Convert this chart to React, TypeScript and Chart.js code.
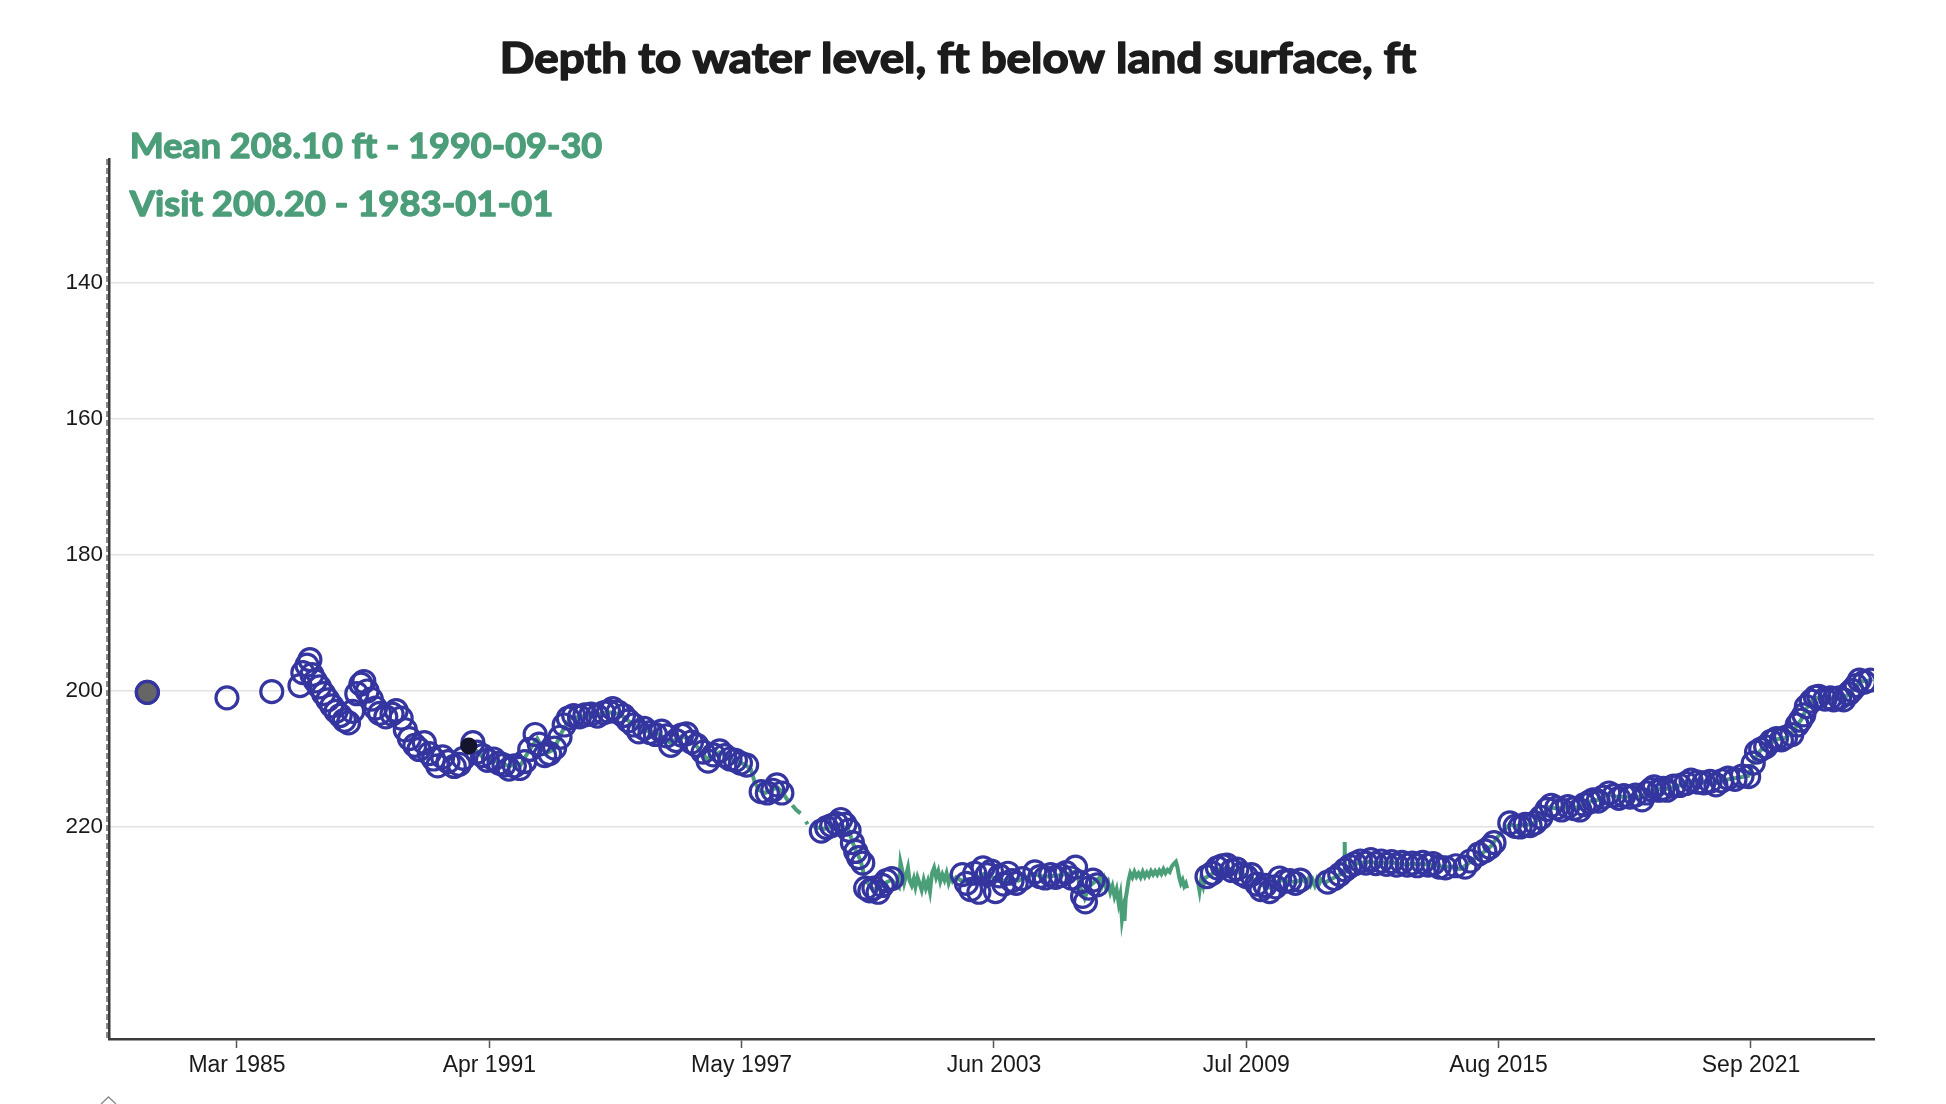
import React, { useEffect, useRef } from "react";
import { Chart, registerables } from "chart.js";

Chart.register(...registerables);

// ---------- DATA ----------
const TITLE = "Depth to water level, ft below land surface, ft";
const MEAN_LABEL = "Mean 208.10 ft - 1990-09-30";
const VISIT_LABEL = "Visit 200.20 - 1983-01-01";

const Y_TICKS = [140, 160, 180, 200, 220];
const X_TICK_VALUES = [1985.162, 1991.247, 1997.329, 2003.414, 2009.496, 2015.581, 2021.666];
const X_TICK_LABELS = ["Mar 1985", "Apr 1991", "May 1997", "Jun 2003", "Jul 2009", "Aug 2015", "Sep 2021"];

// highlighted points
const SELECTED_VISIT = { year: 1983.0, depth: 200.2 };
const MEAN_POINT = { year: 1990.75, depth: 208.1 };

// field visits (decimal year, depth ft)
const VISIT_YEARS = [
  1983.0, 1984.92, 1986.0, 1986.68, 1986.75, 1986.85, 1986.92, 1986.97, 1987.05, 1987.15,
  1987.25, 1987.35, 1987.45, 1987.55, 1987.65, 1987.75, 1987.85, 1987.95, 1988.05, 1988.15,
  1988.22, 1988.3, 1988.4, 1988.5, 1988.6, 1988.75, 1988.9, 1989.0, 1989.12, 1989.22,
  1989.32, 1989.45, 1989.55, 1989.68, 1989.8, 1989.9, 1990.0, 1990.12, 1990.25, 1990.4,
  1990.52, 1990.62, 1990.85, 1990.95, 1991.08, 1991.2, 1991.35, 1991.48, 1991.6, 1991.72,
  1991.85, 1991.98, 1992.1, 1992.22, 1992.35, 1992.45, 1992.58, 1992.7, 1992.82, 1992.95,
  1993.05, 1993.15, 1993.28, 1993.42, 1993.55, 1993.7, 1993.85, 1994.0, 1994.12, 1994.22,
  1994.35, 1994.48, 1994.6, 1994.72, 1994.85, 1994.98, 1995.12, 1995.25, 1995.4, 1995.52,
  1995.62, 1995.75, 1995.88, 1996.0, 1996.12, 1996.25, 1996.4, 1996.52, 1996.65, 1996.8,
  1996.92, 1997.05, 1997.18, 1997.3, 1997.45, 1997.8, 1997.95, 1998.08, 1998.18, 1998.3,
  1999.25, 1999.38, 1999.5, 1999.62, 1999.72, 1999.82, 1999.92, 2000.0, 2000.08, 2000.15,
  2000.25, 2000.32, 2000.42, 2000.52, 2000.62, 2000.72, 2000.82, 2000.95,
  2002.65, 2002.75, 2002.85, 2002.95, 2003.05, 2003.15, 2003.25, 2003.35, 2003.45, 2003.55,
  2003.65, 2003.75, 2003.85, 2003.95, 2004.1, 2004.4, 2004.52, 2004.65, 2004.78, 2004.9,
  2005.02, 2005.15, 2005.28, 2005.38, 2005.48, 2005.55, 2005.62, 2005.7, 2005.8, 2005.9,
  2008.55, 2008.68, 2008.8, 2008.92, 2009.03, 2009.15, 2009.27, 2009.38, 2009.5, 2009.62,
  2009.75, 2009.85, 2009.95, 2010.06, 2010.2, 2010.3, 2010.42, 2010.55, 2010.68, 2010.8,
  2011.46, 2011.62, 2011.75, 2011.88, 2011.99, 2012.12, 2012.25, 2012.38, 2012.5, 2012.62,
  2012.75, 2012.88, 2013.0, 2013.12, 2013.25, 2013.38, 2013.5, 2013.62, 2013.75, 2013.88,
  2014.0, 2014.15, 2014.3, 2014.55, 2014.77, 2014.9, 2015.1, 2015.25, 2015.37, 2015.47,
  2015.85, 2015.98, 2016.1, 2016.22, 2016.34, 2016.46, 2016.6, 2016.75, 2016.85, 2016.98,
  2017.1, 2017.25, 2017.4, 2017.54, 2017.65, 2017.78, 2017.86, 2017.98, 2018.1, 2018.24,
  2018.36, 2018.48, 2018.6, 2018.75, 2018.88, 2019.04, 2019.15, 2019.25, 2019.33, 2019.45,
  2019.55, 2019.64, 2019.8, 2019.95, 2020.1, 2020.22, 2020.38, 2020.53, 2020.68, 2020.82,
  2020.96, 2021.11, 2021.28, 2021.45, 2021.61, 2021.72, 2021.8, 2021.9, 2022.02, 2022.15,
  2022.28, 2022.4, 2022.5, 2022.65, 2022.78, 2022.86, 2022.94, 2023.0, 2023.12, 2023.22,
  2023.3, 2023.45, 2023.58, 2023.66, 2023.8, 2023.9, 2024.02, 2024.1, 2024.2, 2024.28,
  2024.4, 2024.55,
];
const VISIT_DEPTHS = [
  200.2, 201.0, 200.1, 199.2, 197.3, 196.2, 195.4, 197.6, 198.5, 199.4,
  200.4, 201.3, 202.2, 203.0, 203.6, 204.3, 204.7, 203.0, 200.4, 199.0,
  198.6, 200.0, 201.2, 202.5, 203.3, 203.8, 203.4, 202.9, 204.0, 205.7,
  207.0, 208.0, 208.6, 207.6, 209.2, 210.0, 211.0, 209.7, 210.4, 211.1,
  210.8, 209.9, 207.6, 209.0, 209.5, 210.2, 210.0, 210.6, 210.9, 211.5,
  211.0, 211.4, 210.4, 208.6, 206.4, 207.8, 209.5, 209.2, 208.4, 206.8,
  205.0, 204.0, 203.6, 203.8, 203.5, 203.4, 203.7, 203.2, 203.0, 202.6,
  203.1, 203.6, 204.4, 205.0, 206.0, 205.5, 206.1, 206.4, 205.9, 206.6,
  208.0, 207.3, 206.5, 206.3, 207.5, 208.0, 209.0, 210.3, 209.4, 208.8,
  209.5, 210.0, 210.2, 210.6, 210.9, 214.8, 215.0, 214.6, 213.8, 215.0,
  220.6, 220.1, 219.8, 219.5, 218.9, 219.6, 220.5, 222.3, 223.6, 224.5,
  225.3, 229.0, 229.4, 229.0, 229.6, 228.6, 227.9, 227.6,
  227.0, 228.3, 229.2, 226.8, 229.6, 226.0, 227.0, 226.5, 229.5, 227.2,
  228.4, 226.8, 227.9, 228.3, 227.6, 226.6, 227.3, 227.5, 227.0, 227.4,
  227.1, 226.7, 227.5, 225.9, 228.1, 230.2, 231.0, 229.0, 227.8, 228.5,
  227.3, 226.8, 226.0, 225.7, 225.6, 226.4, 226.2, 226.9, 227.3, 227.0,
  228.4, 229.2, 228.6, 229.5, 228.8, 227.5, 228.0, 227.9, 228.3, 227.8,
  228.1, 227.6, 227.0, 226.3, 225.8, 225.4, 225.0, 225.3, 224.8, 225.4,
  225.0, 225.5, 225.1, 225.6, 225.2, 225.6, 225.3, 225.7, 225.2, 225.6,
  225.4, 225.9, 226.0, 225.7, 225.9, 225.0, 224.0, 223.5, 223.0, 222.3,
  219.4, 219.9, 220.0, 219.6, 219.8, 219.4, 218.6, 217.4, 216.8, 217.2,
  217.5, 217.0, 217.3, 217.5, 216.7, 216.3, 216.0, 216.2, 215.6, 215.0,
  215.4, 215.8, 215.4, 215.6, 215.3, 216.0, 215.0, 214.5, 214.1, 214.6,
  214.3, 214.6, 214.0, 213.9, 213.6, 213.1, 213.4, 213.5, 213.3, 213.8,
  213.2, 212.8, 213.0, 212.5, 212.6, 210.6, 209.0, 208.6, 208.2, 207.4,
  207.0, 207.2, 206.8, 206.4, 205.0, 204.3, 203.5, 202.3, 201.5, 200.9,
  200.8, 201.2, 201.0, 201.3, 201.0, 201.3, 200.4, 199.9, 199.2, 198.4,
  198.7, 198.4,
];

// continuous (daily) record; null = gap
const CONT_YEARS = [
  1990.9, 1991.1, 1991.4, 1991.7, 1992.0, 1992.2, 1992.4, 1992.6, 1992.8, 1993.0,
  1993.2, 1993.5, 1993.8, 1994.1, 1994.4, 1994.7, 1995.0, 1995.3, 1995.6, 1995.9,
  1996.2, 1996.5, 1996.8, 1997.1, 1997.4, 1997.55, 1997.65, 1997.75, 1997.9, 1998.05,
  1998.2, 1998.35, 1998.45, 1998.5,
  1998.55, 1998.65, 1998.75, 1998.8,
  1998.88, 1998.92, 1998.96,
  1999.0, 1999.3, 1999.6, 1999.9, 2000.05, 2000.2, 2000.3, 2000.45, 2000.6, 2000.8,
  2000.95, 2001.05, 2001.12, 2001.16, 2001.2, 2001.25, 2001.3, 2001.34, 2001.38, 2001.43,
  2001.48, 2001.52, 2001.57, 2001.62, 2001.67, 2001.72, 2001.77, 2001.82, 2001.87, 2001.92,
  2001.97, 2002.02, 2002.07, 2002.12, 2002.17, 2002.22, 2002.27, 2002.32, 2002.37, 2002.42,
  2002.5, 2002.6, 2002.8, 2003.0, 2003.2, 2003.4, 2003.6, 2003.8, 2004.0, 2004.2,
  2004.35, 2004.6, 2004.8, 2005.0, 2005.2, 2005.4, 2005.5, 2005.6, 2005.7, 2005.85,
  2005.97, 2006.02, 2006.07, 2006.12, 2006.17, 2006.22, 2006.27, 2006.32, 2006.37, 2006.42,
  2006.46, 2006.5, 2006.53, 2006.56, 2006.59, 2006.62, 2006.66, 2006.7, 2006.75, 2006.8,
  2006.85, 2006.9, 2006.95, 2007.0, 2007.05, 2007.1, 2007.15, 2007.2, 2007.25, 2007.3,
  2007.35, 2007.4, 2007.45, 2007.5, 2007.55, 2007.6, 2007.65, 2007.7, 2007.75, 2007.8,
  2007.84, 2007.88, 2007.92, 2007.96, 2008.0, 2008.04, 2008.07, 2008.2,
  2008.33, 2008.37, 2008.41, 2008.46, 2008.5, 2008.7, 2008.9, 2009.1, 2009.3, 2009.5,
  2009.7, 2009.9, 2010.1, 2010.3, 2010.5, 2010.7, 2010.85, 2010.95, 2011.0, 2011.05,
  2011.1, 2011.15, 2011.2, 2011.25, 2011.3, 2011.4, 2011.5, 2011.6, 2011.7, 2011.8,
  2011.86, 2011.87, 2011.88, 2011.95, 2012.1, 2012.4, 2012.7, 2013.0, 2013.3, 2013.6,
  2013.9, 2014.2, 2014.5, 2014.65, 2014.8, 2015.0, 2015.2, 2015.4, 2015.55, 2015.7,
  2015.85, 2016.0, 2016.2, 2016.4, 2016.6, 2016.8, 2017.0, 2017.2, 2017.4, 2017.6,
  2017.8, 2018.0, 2018.2, 2018.4, 2018.6, 2018.8, 2019.0, 2019.2, 2019.4, 2019.6,
  2019.8, 2020.0, 2020.2, 2020.4, 2020.6, 2020.8, 2021.0, 2021.2, 2021.4, 2021.6,
  2021.75, 2021.9, 2022.1, 2022.3, 2022.5, 2022.7, 2022.9, 2023.0, 2023.15, 2023.3,
  2023.5, 2023.7, 2023.9, 2024.1, 2024.3, 2024.5, 2024.6,
];
const CONT_DEPTHS = [
  208.6, 209.8, 210.3, 211.0, 210.9, 208.8, 207.0, 209.2, 208.6, 206.0,
  204.0, 203.7, 203.6, 203.1, 203.4, 204.9, 205.8, 206.2, 207.6, 206.6,
  207.8, 210.0, 209.0, 210.1, 210.8, 211.5, 213.5, 214.6, 215.0, 214.5,
  214.2, 215.2, 216.2, null,
  216.8, 217.5, 218.0, null,
  219.2, 219.6, null,
  219.8, 220.3, 219.6, 220.3, 223.0, 225.0, 227.5, 229.0, 229.3, 228.2,
  227.8, 228.5, 228.9, 225.2, 226.3, 228.2, 227.0, 226.0, 227.9, 228.6,
  227.6, 228.8, 227.4, 228.3, 229.3, 227.8, 229.0, 228.0, 229.5, 226.8,
  226.0, 227.4, 226.5, 228.0, 227.0, 227.8, 226.8, 228.2, 227.2, 228.0,
  227.4, 227.8, 228.0, 227.5, 226.8, 227.5, 228.0, 227.6, 227.9, 227.4,
  226.9, 227.3, 227.2, 227.1, 226.9, 226.5, 229.0, 230.5, 228.8, 228.0,
  227.4, 228.6, 227.7, 229.0, 228.2, 229.6, 228.7, 230.2, 229.2, 231.2,
  230.0, 233.6, 232.4, 233.8, 230.5, 229.4, 227.8, 226.8, 227.4, 226.6,
  227.3, 226.8, 227.4, 226.6, 227.3, 226.7, 227.2, 226.5, 227.0, 226.5,
  227.0, 226.4, 226.9, 226.2, 226.8, 226.3, 226.6, 225.8, 225.4, 225.1,
  226.0, 227.4, 228.3, 227.8, 228.7, 228.3, 229.0, null,
  228.0, 229.4, 227.6, 228.7, 227.5, 226.8, 226.0, 226.2, 226.6, 227.2,
  227.8, 228.6, 229.0, 227.8, 228.0, 228.1, 227.6, 228.3, 227.6, 228.5,
  227.8, 228.6, 227.7, 228.4, 227.7, 228.2, 227.8, 227.5, 227.2, 226.8,
  226.6, 222.2, 226.4, 226.0, 225.5, 225.1, 225.3, 225.2, 225.5, 225.4,
  225.5, 225.8, 225.9, 226.2, 225.6, 224.6, 223.8, 222.8, 221.5, 220.5,
  219.6, 219.9, 219.7, 219.6, 218.5, 217.1, 217.3, 217.1, 217.2, 216.9,
  216.2, 216.0, 215.2, 215.5, 215.6, 215.5, 215.6, 214.7, 214.4, 214.5,
  214.1, 213.8, 213.3, 213.4, 213.4, 213.6, 213.1, 212.9, 212.7, 212.5,
  210.0, 208.7, 207.8, 207.1, 206.9, 205.8, 204.0, 202.6, 201.3, 200.9,
  201.1, 201.2, 201.1, 200.0, 198.6, 198.5, 198.3,
];

// axis ranges
const X_MIN = 1982.076;
const X_MAX = 2024.632;
const Y_MIN = 121.76;
const Y_MAX = 251.18;

// ---------- STYLE ----------
const W = 1946;
const H = 1104;
const GREEN = "#4a9e78";
const TEXT_GREEN = "#4c9d79";
const BLUE = "#3535a0";
const HEAD_FONT = "Lato, 'Open Sans', sans-serif";
const AXIS_FONT = "'Liberation Sans', Arial, Helvetica, sans-serif";

function drawFitted(
  ctx: CanvasRenderingContext2D,
  text: string,
  font: string,
  color: string,
  x: number,
  baseline: number,
  targetW: number,
  embolden: number
) {
  ctx.save();
  ctx.font = font;
  ctx.fillStyle = color;
  ctx.strokeStyle = color;
  ctx.lineJoin = "round";
  ctx.lineWidth = embolden;
  ctx.textAlign = "left";
  ctx.textBaseline = "alphabetic";
  const w = ctx.measureText(text).width + embolden;
  const s = w > 0 ? targetW / w : 1;
  ctx.translate(x + embolden / 2, baseline);
  ctx.scale(s, 1);
  ctx.fillText(text, 0, 0);
  if (embolden > 0) ctx.strokeText(text, 0, 0);
  ctx.restore();
}

const decorPlugin = {
  id: "decor",
  afterDraw(chart: any) {
    const { ctx, chartArea } = chart;
    // titles / annotations
    drawFitted(ctx, TITLE, `700 42px ${HEAD_FONT}`, "#1c1c1c", 499, 73, 918, 1.6);
    drawFitted(ctx, MEAN_LABEL, `700 34px ${HEAD_FONT}`, TEXT_GREEN, 129, 158, 474, 1.3);
    drawFitted(ctx, VISIT_LABEL, `700 34px ${HEAD_FONT}`, TEXT_GREEN, 129, 216, 425, 1.3);
    // dashed line beside the y axis
    ctx.save();
    ctx.strokeStyle = "#8a8a8a";
    ctx.lineWidth = 2;
    ctx.setLineDash([6, 3]);
    ctx.beginPath();
    ctx.moveTo(chartArea.left - 2, chartArea.top);
    ctx.lineTo(chartArea.left - 2, chartArea.bottom);
    ctx.stroke();
    ctx.restore();
    // small caret below the chart
    ctx.save();
    ctx.strokeStyle = "#888";
    ctx.lineWidth = 1.3;
    ctx.beginPath();
    ctx.moveTo(chartArea.left - 8, H);
    ctx.lineTo(chartArea.left - 0.5, H - 7);
    ctx.lineTo(chartArea.left + 7, H);
    ctx.stroke();
    ctx.restore();
  },
};

export default function App() {
  const ref = useRef<HTMLCanvasElement | null>(null);

  useEffect(() => {
    let chart: Chart | null = null;
    let cancelled = false;
    const make = () => {
      if (cancelled || !ref.current) return;
      const visits = VISIT_YEARS.map((x, i) => ({ x, y: VISIT_DEPTHS[i] }));
      const cont = CONT_YEARS.map((x, i) => ({ x, y: CONT_DEPTHS[i] }));
      chart = new Chart(ref.current, {
        type: "scatter",
        data: {
          datasets: [
            {
              label: "mean",
              data: [{ x: MEAN_POINT.year, y: MEAN_POINT.depth }],
              pointRadius: 8.5,
              pointBorderWidth: 0,
              backgroundColor: "#14142a",
              borderColor: "#14142a",
              showLine: false,
              clip: 0,
            },
            {
              label: "selected",
              data: [{ x: SELECTED_VISIT.year, y: SELECTED_VISIT.depth }],
              pointRadius: 11,
              pointBorderWidth: 3.2,
              backgroundColor: "#666666",
              borderColor: BLUE,
              showLine: false,
              clip: 0,
            },
            {
              label: "visits",
              data: visits,
              pointRadius: 11,
              pointBorderWidth: 3.2,
              backgroundColor: "rgba(0,0,0,0)",
              borderColor: BLUE,
              showLine: false,
              clip: 0,
            },
            {
              label: "continuous",
              type: "line",
              data: cont as any,
              borderColor: GREEN,
              backgroundColor: GREEN,
              borderWidth: 4,
              pointRadius: 0,
              showLine: true,
              spanGaps: false,
              tension: 0,
              clip: 0,
            } as any,
          ],
        },
        options: {
          animation: false,
          responsive: false,
          maintainAspectRatio: false,
          devicePixelRatio: 1,
          events: [],
          layout: { padding: { left: 0, right: 72, top: 159, bottom: 0 } },
          plugins: {
            legend: { display: false },
            tooltip: { enabled: false },
            title: { display: false },
          },
          scales: {
            x: {
              type: "linear",
              min: X_MIN,
              max: X_MAX,
              afterBuildTicks: (scale: any) => {
                scale.ticks = X_TICK_VALUES.map((v) => ({ value: v }));
              },
              afterFit: (scale: any) => {
                scale.height = 65;
              },
              ticks: {
                autoSkip: false,
                maxRotation: 0,
                padding: 4,
                color: "#1a1a1a",
                font: { family: AXIS_FONT, size: 23 },
                callback: (_v: any, i: number) => X_TICK_LABELS[i],
              },
              grid: {
                drawOnChartArea: false,
                drawTicks: true,
                tickLength: 9,
                tickWidth: 1.5,
                tickColor: "#555",
                color: "#555",
              },
              border: { display: true, color: "#3a3a3a", width: 2.5 },
            },
            y: {
              type: "linear",
              reverse: true,
              min: Y_MIN,
              max: Y_MAX,
              afterBuildTicks: (scale: any) => {
                scale.ticks = Y_TICKS.map((v) => ({ value: v }));
              },
              afterFit: (scale: any) => {
                scale.width = 109;
              },
              ticks: {
                padding: 6,
                color: "#1a1a1a",
                font: { family: AXIS_FONT, size: 22.5 },
                callback: (v: any) => String(v),
              },
              grid: {
                drawTicks: false,
                color: "#e2e2e2",
                lineWidth: 1.5,
              },
              border: { display: true, color: "#3a3a3a", width: 2.5 },
            },
          },
        },
        plugins: [decorPlugin],
      } as any);
    };
    const fontsReady = (document as any).fonts
      ? Promise.all([
          (document as any).fonts.load(`700 42px Lato`),
          (document as any).fonts.load(`22px "Liberation Sans"`),
        ]).catch(() => null)
      : Promise.resolve(null);
    fontsReady.then(make);
    return () => {
      cancelled = true;
      if (chart) chart.destroy();
    };
  }, []);

  return (
    <div style={{ position: "absolute", left: 0, top: 0, width: W, height: H, background: "#fff" }}>
      <canvas ref={ref} width={W} height={H} style={{ display: "block", width: W, height: H }} />
    </div>
  );
}
